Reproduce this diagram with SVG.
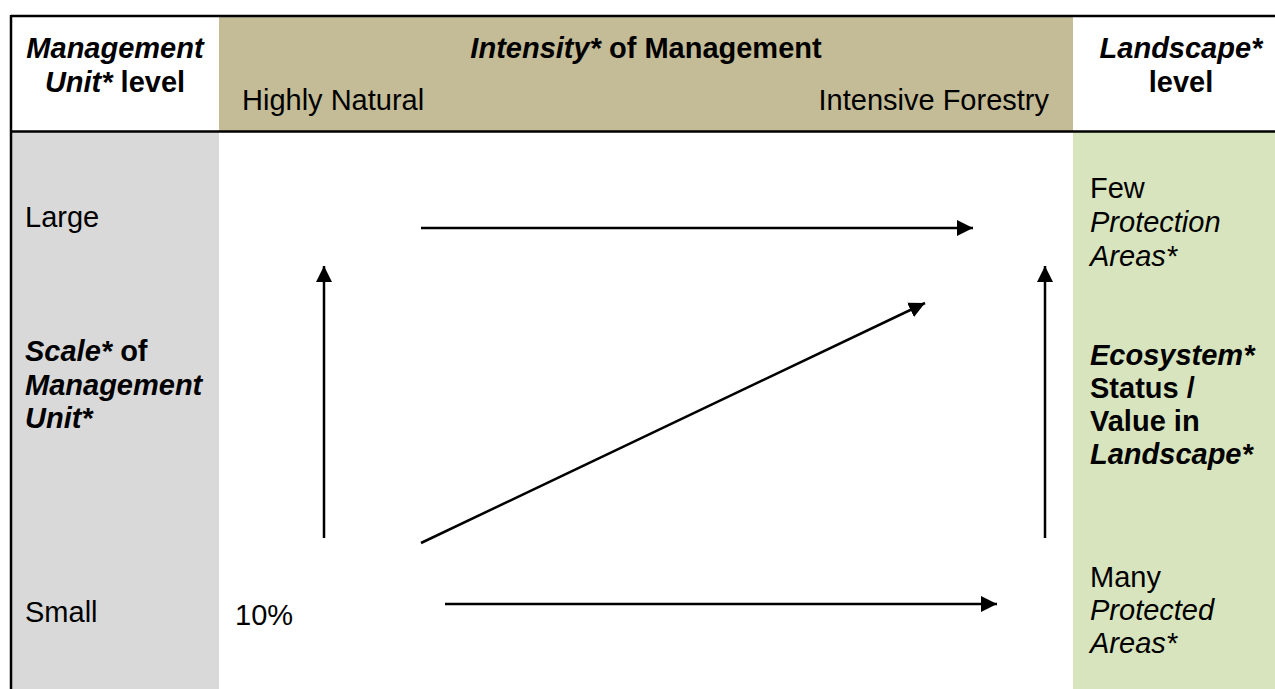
<svg xmlns="http://www.w3.org/2000/svg" width="1275" height="689" viewBox="0 0 1275 689">
<style>
text{font-family:"Liberation Sans",Arial,sans-serif;font-size:29px;fill:#000}
.b{font-weight:bold}
.i{font-style:italic}
.m{text-anchor:middle}
.e{text-anchor:end}
.conn line{stroke:#000;stroke-width:2.5;fill:none;marker-end:url(#ah)}
.rule{stroke:#000;stroke-width:2.5}
</style>
<defs>
<marker id="ah" markerUnits="userSpaceOnUse" viewBox="0 0 16 16" refX="16" refY="8" markerWidth="16" markerHeight="16" orient="auto">
<path d="M0,0 L16,8 L0,16 z" fill="#000"/>
</marker>
</defs>
<rect width="1275" height="689" fill="#fff"/>
<g id="header-left">
<text class="b i m" x="115" y="58">Management</text>
<text class="b m" x="115" y="92"><tspan class="i">Unit*</tspan> level</text>
</g>
<g id="header-intensity">
<rect x="219" y="17" width="854" height="114" fill="#C4BC96"/>
<text class="b m" x="646" y="58"><tspan class="i">Intensity*</tspan> of Management</text>
<text x="242" y="110">Highly Natural</text>
<text class="e" x="1049" y="110">Intensive Forestry</text>
</g>
<g id="header-right">
<text class="b i m" x="1181" y="58">Landscape*</text>
<text class="b m" x="1181" y="92">level</text>
</g>
<g id="scale-column">
<rect x="11" y="132" width="208" height="557" fill="#D9D9D9"/>
<text x="25" y="227">Large</text>
<text class="b" x="25" y="361"><tspan class="i">Scale*</tspan> of</text>
<text class="b i" x="25" y="395">Management</text>
<text class="b i" x="25" y="428">Unit*</text>
<text x="25" y="622">Small</text>
</g>
<g id="landscape-column">
<rect x="1073" y="132" width="202" height="557" fill="#D7E4BD"/>
<text x="1090" y="198">Few</text>
<text class="i" x="1090" y="232">Protection</text>
<text class="i" x="1090" y="266">Areas*</text>
<text class="b i" x="1090" y="365">Ecosystem*</text>
<text class="b" x="1090" y="398">Status /</text>
<text class="b" x="1090" y="431">Value in</text>
<text class="b i" x="1090" y="464">Landscape*</text>
<text x="1090" y="587">Many</text>
<text class="i" x="1090" y="620">Protected</text>
<text class="i" x="1090" y="653">Areas*</text>
</g>
<g id="label-10pct">
<text x="235" y="625">10%</text>
</g>
<g id="borders">
<line class="rule" x1="11" y1="16" x2="1275" y2="16"/>
<line class="rule" x1="11" y1="131.5" x2="1275" y2="131.5"/>
<line class="rule" x1="11" y1="15" x2="11" y2="689"/>
</g>
<g id="connectors" class="conn">
<line x1="421" y1="228" x2="973" y2="228"/>
<line x1="324" y1="538" x2="324" y2="266"/>
<line x1="421" y1="543" x2="925" y2="303"/>
<line x1="1045" y1="538" x2="1045" y2="266"/>
<line x1="445" y1="604" x2="997" y2="604"/>
</g>
</svg>
